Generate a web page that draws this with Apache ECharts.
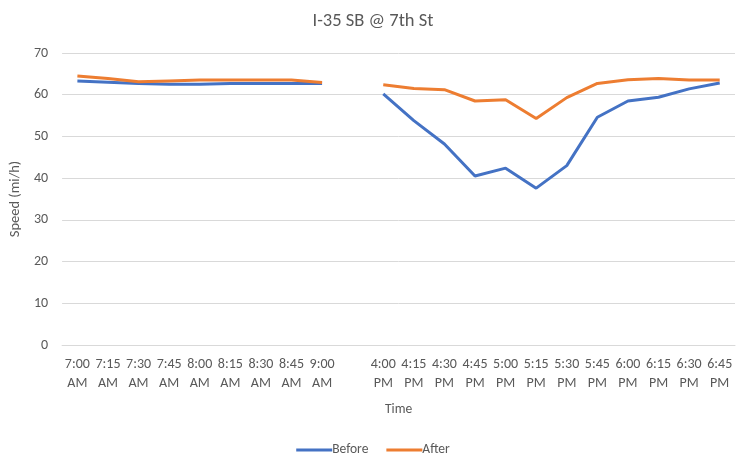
<!DOCTYPE html>
<html>
<head>
<meta charset="utf-8">
<style>
  html, body { margin: 0; padding: 0; background: #fff; }
  #chart { width: 746px; height: 464px; }
</style>
<script src="https://cdn.jsdelivr.net/npm/echarts@6/dist/echarts.min.js"></script>
</head>
<body>
<div id="chart"></div>
<script>
// Time slots: morning peak, a blank separator slot, evening peak
const timeLabels = [
  '7:00\nAM', '7:15\nAM', '7:30\nAM', '7:45\nAM', '8:00\nAM', '8:15\nAM', '8:30\nAM', '8:45\nAM', '9:00\nAM',
  '',
  '4:00\nPM', '4:15\nPM', '4:30\nPM', '4:45\nPM', '5:00\nPM', '5:15\nPM', '5:30\nPM', '5:45\nPM', '6:00\nPM', '6:15\nPM', '6:30\nPM', '6:45\nPM'
];

// Average speeds (mi/h)
const beforeSpeeds = [
  63.3, 63.0, 62.7, 62.5, 62.5, 62.7, 62.7, 62.7, 62.7,
  null,
  60.2, 53.8, 48.2, 40.5, 42.4, 37.6, 43.0, 54.6, 58.5, 59.4, 61.4, 62.8
];
const afterSpeeds = [
  64.5, 63.9, 63.1, 63.3, 63.5, 63.5, 63.5, 63.5, 62.9,
  null,
  62.4, 61.5, 61.2, 58.5, 58.8, 54.3, 59.3, 62.7, 63.6, 63.9, 63.5, 63.5
];

const yTicks = { min: 0, max: 70, interval: 10 };

const textColor = '#595959';
const fontFamily = "Calibri, Carlito, 'Liberation Sans Narrow', 'Open Sans', sans-serif";

const chart = echarts.init(document.getElementById('chart'), null, { renderer: 'canvas' });

chart.setOption({
  animation: false,
  textStyle: { fontFamily: fontFamily, color: textColor },
  title: {
    text: 'I-35 SB @ 7th St',
    left: 'center',
    top: 7,
    textStyle: { fontFamily: fontFamily, fontSize: 18.5, fontWeight: 'normal', color: textColor }
  },
  grid: { left: 62, right: 11, top: 53, bottom: 119 },
  legend: {
    bottom: 2,
    left: 'center',
    icon: 'rect',
    itemWidth: 36,
    itemHeight: 3,
    itemGap: 18,
    textStyle: { fontFamily: fontFamily, fontSize: 13.5, color: textColor, padding: [0, 0, 0, -5] },
    data: ['Before', 'After']
  },
  xAxis: {
    type: 'category',
    data: timeLabels,
    boundaryGap: true,
    name: 'Time',
    nameLocation: 'middle',
    nameGap: 58,
    nameTextStyle: { fontFamily: fontFamily, fontSize: 13.5, color: textColor },
    axisLine: { show: true, lineStyle: { color: '#d9d9d9', width: 1 } },
    axisTick: { show: false },
    axisLabel: {
      interval: 0,
      margin: 10,
      fontFamily: fontFamily,
      fontSize: 14,
      lineHeight: 19,
      color: textColor
    }
  },
  yAxis: {
    type: 'value',
    min: yTicks.min,
    max: yTicks.max,
    interval: yTicks.interval,
    name: 'Speed (mi/h)',
    nameLocation: 'middle',
    nameGap: 37,
    nameRotate: 90,
    nameTextStyle: { fontFamily: fontFamily, fontSize: 14.5, color: textColor },
    axisLine: { show: false },
    axisTick: { show: false },
    axisLabel: { fontFamily: fontFamily, fontSize: 14, color: textColor, margin: 14 },
    splitLine: { lineStyle: { color: '#d9d9d9', width: 1 } }
  },
  series: [
    {
      name: 'Before',
      type: 'line',
      data: beforeSpeeds,
      symbol: 'none',
      connectNulls: false,
      lineStyle: { color: '#4472C4', width: 3 },
      itemStyle: { color: '#4472C4' }
    },
    {
      name: 'After',
      type: 'line',
      data: afterSpeeds,
      symbol: 'none',
      connectNulls: false,
      lineStyle: { color: '#ED7D31', width: 3 },
      itemStyle: { color: '#ED7D31' }
    }
  ]
});
</script>
</body>
</html>
